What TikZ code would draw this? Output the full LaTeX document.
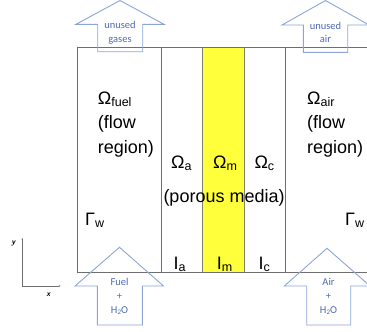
\documentclass[tikz,border=0pt]{standalone}
\usepackage{fontspec}
\usetikzlibrary{arrows.meta}
\setmainfont{Liberation Sans}
\newfontfamily\calfont{Carlito}
\definecolor{boxgray}{RGB}{110,110,110}
\definecolor{arrline}{RGB}{140,165,215}
\definecolor{arrtext}{RGB}{75,105,180}
\definecolor{memyellow}{RGB}{255,255,60}
\newcommand\mysub[1]{\raisebox{-2.5pt}{\fontsize{12.5}{12.5}\selectfont #1}}
\begin{document}
\begin{tikzpicture}[x=1pt,y=-1pt,
  lbl/.style={inner sep=0pt,anchor=base west,font=\fontsize{18}{20}\selectfont},
  atx/.style={inner sep=0pt,anchor=base,text=arrtext,font=\calfont\fontsize{10.5}{12}\selectfont},
  arr/.style={draw=arrline,line width=0.9pt,line join=miter},
  wall/.style={draw=boxgray,line width=1pt}]
\useasboundingbox (0,0) rectangle (367,332);
% yellow membrane
\fill[memyellow] (202.7,47.7) rectangle (244,272);
% box
\draw[wall] (370,47.7) -- (77,47.7) -- (77,272) -- (370,272);
\draw[wall] (161,47.7) -- (161,272);
\draw[draw=black!60!yellow!60!gray,line width=1pt] (202.7,47.7) -- (202.7,272);
\draw[draw=black!60!yellow!60!gray,line width=1pt] (244,47.7) -- (244,272);
\draw[wall] (285.7,47.7) -- (285.7,272);
% arrows
\draw[arr] (120,0.5) -- (164,24.3) -- (142.7,24.3) -- (142.7,51.7) -- (97.7,51.7) -- (97.7,24.3) -- (76,24.3) -- cycle;
\draw[arr] (325.5,0.5) -- (369,25) -- (347.7,25) -- (347.7,52.3) -- (303.3,52.3) -- (303.3,25) -- (282,25) -- cycle;
\draw[arr] (119.5,247.3) -- (163.5,286) -- (142.3,286) -- (142.3,325) -- (97.3,325) -- (97.3,286) -- (75,286) -- cycle;
\draw[arr] (327,248.3) -- (370,286) -- (350.7,286) -- (350.7,325) -- (306.7,325) -- (306.7,286) -- (284.3,286) -- cycle;
% arrow texts
\node[atx] (u1) at (120,28.5) {unused};
\node[atx] (g1) at (120,42) {gases};
\node[atx] (u2) at (325.5,29) {unused};
\node[atx] (a2) at (325.5,42.5) {air};
\node[atx] (f1) at (119.5,285) {Fuel};
\node[atx] (p1) at (119.5,299) {+};
\node[atx] (h1) at (119.5,313) {H\raisebox{-1.5pt}{\fontsize{7}{7}\selectfont 2}O};
\node[atx] (f2) at (328.5,285) {Air};
\node[atx] (p2) at (328.5,299) {+};
\node[atx] (h2) at (328.5,313) {H\raisebox{-1.5pt}{\fontsize{7}{7}\selectfont 2}O};
% main labels
\node[lbl] (of) at (97.7,104.3) {Ω\mysub{fuel}};
\node[lbl] (fl1) at (97.7,128) {(flow};
\node[lbl] (rg1) at (97.7,153) {region)};
\node[lbl] (oa) at (307,104.3) {Ω\mysub{air}};
\node[lbl] (fl2) at (307,128) {(flow};
\node[lbl] (rg2) at (307,153) {region)};
\node[lbl] (oan) at (171,168.3) {Ω\mysub{a}};
\node[lbl] (omn) at (213,168.3) {Ω\mysub{m}};
\node[lbl] (ocn) at (254.3,168.3) {Ω\mysub{c}};
\node[lbl] (pm) at (163.3,202) {(porous media)};
\node[lbl] (gw1) at (85,225) {Γ\mysub{w}};
\node[lbl] (gw2) at (345,225) {Γ\mysub{w}};
\node[lbl] (ia) at (173.5,269) {I\mysub{a}};
\node[lbl] (im) at (216.7,269) {I\mysub{m}};
\node[lbl] (ic) at (258.3,269) {I\mysub{c}};
% axes
\coordinate (o) at (22.3,286);
\coordinate (ye) at (22.3,238);
\coordinate (xe) at (60.7,286);
\draw[draw=boxgray,line width=0.7pt,-{Latex[length=1.5pt,width=1.5pt]}] (o) -- (ye);
\draw[draw=boxgray,line width=0.7pt,-{Latex[length=1.5pt,width=1.5pt]}] (o) -- (xe);
\node[inner sep=0pt,font=\sffamily\itshape\bfseries\fontsize{8}{8}\selectfont] (yl) at (13.3,243) {y};
\node[inner sep=0pt,font=\sffamily\itshape\bfseries\fontsize{8}{8}\selectfont] (xl) at (48.3,295) {x};
\end{tikzpicture}
\end{document}
